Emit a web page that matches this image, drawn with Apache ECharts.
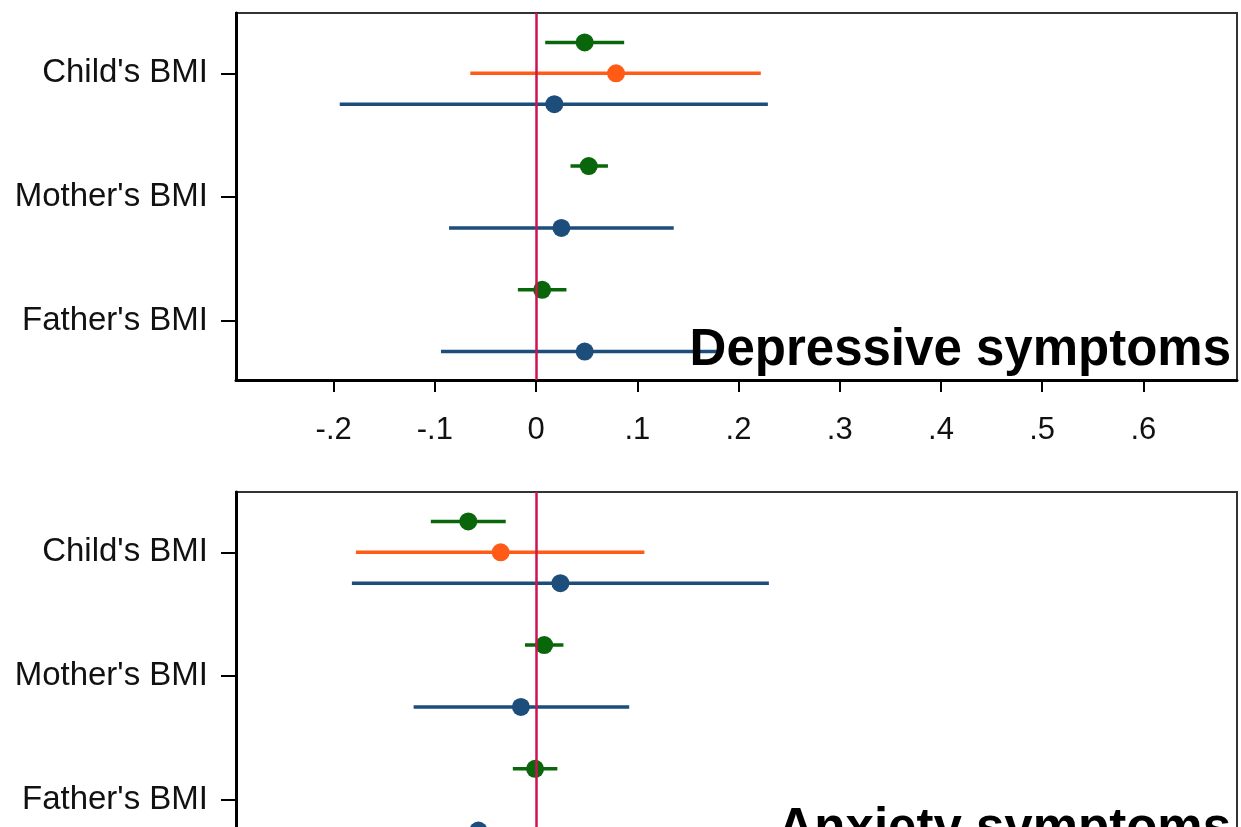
<!DOCTYPE html>
<html>
<head>
<meta charset="utf-8">
<script src="https://cdn.jsdelivr.net/npm/echarts@6/dist/echarts.min.js"></script>
<style>
  html, body { margin: 0; padding: 0; background: #fff; }
  #chart { width: 1241px; height: 827px; }
</style>
</head>
<body>
<div id="chart"></div>
<script>
// ---- data (order: Father's BMI, Mother's BMI, Child's BMI) ----
const categories = ["Father's BMI", "Mother's BMI", "Child's BMI"];
const xTicks = [-0.2, -0.1, 0, 0.1, 0.2, 0.3, 0.4, 0.5, 0.6];
const panelTitles = ["Depressive symptoms", "Anxiety symptoms"];

// Depressive symptoms
const depGreenEst = [0.006, 0.052, 0.048];
const depGreenLo  = [-0.018, 0.034, 0.009];
const depGreenHi  = [0.030, 0.071, 0.087];
const depOrangeEst = [null, null, 0.079];
const depOrangeLo  = [null, null, -0.065];
const depOrangeHi  = [null, null, 0.222];
const depBlueEst = [0.048, 0.025, 0.018];
const depBlueLo  = [-0.094, -0.086, -0.194];
const depBlueHi  = [0.180, 0.136, 0.229];

// Anxiety symptoms
const anxGreenEst = [-0.001, 0.008, -0.067];
const anxGreenLo  = [-0.023, -0.011, -0.104];
const anxGreenHi  = [0.021, 0.027, -0.030];
const anxOrangeEst = [null, null, -0.035];
const anxOrangeLo  = [null, null, -0.178];
const anxOrangeHi  = [null, null, 0.107];
const anxBlueEst = [-0.057, -0.015, 0.024];
const anxBlueLo  = [-0.170, -0.121, -0.182];
const anxBlueHi  = [0.060, 0.092, 0.230];

// ---- styling / layout ----
const GREEN = '#0a660a', ORANGE = '#ff5b17', BLUE = '#1d4d7b', RED = '#cc1450';
const ROW_OFFSET = { green: 0.25, orange: 0, blue: -0.25 };
const panels = [
  { top: 13, groups: [
    { key: 'green', color: GREEN, est: depGreenEst, lo: depGreenLo, hi: depGreenHi },
    { key: 'orange', color: ORANGE, est: depOrangeEst, lo: depOrangeLo, hi: depOrangeHi },
    { key: 'blue', color: BLUE, est: depBlueEst, lo: depBlueLo, hi: depBlueHi }
  ]},
  { top: 492, groups: [
    { key: 'green', color: GREEN, est: anxGreenEst, lo: anxGreenLo, hi: anxGreenHi },
    { key: 'orange', color: ORANGE, est: anxOrangeEst, lo: anxOrangeLo, hi: anxOrangeHi },
    { key: 'blue', color: BLUE, est: anxBlueEst, lo: anxBlueLo, hi: anxBlueHi }
  ]}
];
const PANEL_H = 367;
const FONT = '"Liberation Sans", Arial, sans-serif';

function fmtTick(v) {
  if (Math.abs(v) < 1e-9) return '0';
  const s = Math.abs(v).toFixed(1).replace(/^0/, '');
  return (v < 0 ? '-' : '') + s;
}

const grid = [], xAxis = [], yAxis = [], series = [], graphic = [];
panels.forEach((p, i) => {
  grid.push({ left: 236, right: 4, top: p.top, height: PANEL_H, show: true,
    outerBoundsMode: 'none', containLabel: false,
    borderColor: '#333', borderWidth: 2, backgroundColor: '#fff' });
  xAxis.push({
    type: 'value', gridIndex: i, min: -0.2965, max: 0.6925,
    splitLine: { show: false },
    axisLine: { show: true, onZero: false, lineStyle: { color: '#000', width: 3 } },
    axisTick: { show: true, length: 12, customValues: xTicks, lineStyle: { color: '#000', width: 2 } },
    axisLabel: { customValues: xTicks, formatter: fmtTick, fontSize: 31, fontFamily: FONT,
      color: '#111', margin: 35 }
  });
  yAxis.push({
    type: 'value', gridIndex: i, min: 0.5205, max: 3.4875,
    splitLine: { show: false },
    axisLine: { show: true, onZero: false, lineStyle: { color: '#000', width: 3 } },
    axisTick: { show: true, length: 15, customValues: [1, 2, 3], lineStyle: { color: '#000', width: 2 } },
    axisLabel: { customValues: [1, 2, 3], formatter: v => categories[Math.round(v) - 1] || '',
      fontSize: 33, fontFamily: FONT, color: '#111', margin: 28 }
  });
  // zero reference line
  series.push({
    type: 'scatter', xAxisIndex: i, yAxisIndex: i, data: [], silent: true,
    markLine: { silent: true, symbol: 'none', label: { show: false },
      lineStyle: { color: RED, width: 2.5, type: 'solid' }, data: [{ xAxis: 0 }] },
    z: 1
  });
  p.groups.forEach(g => {
    const barData = [], ptData = [];
    g.est.forEach((e, k) => {
      if (e === null) return;
      const y = k + 1 + ROW_OFFSET[g.key];
      barData.push([g.lo[k], g.hi[k], y]);
      ptData.push([e, y]);
    });
    series.push({
      type: 'custom', xAxisIndex: i, yAxisIndex: i, data: barData, silent: true, z: 3,
      encode: { x: [0, 1], y: 2 },
      renderItem: (params, api) => {
        const a = api.coord([api.value(0), api.value(2)]);
        const b = api.coord([api.value(1), api.value(2)]);
        return { type: 'line', shape: { x1: a[0], y1: a[1], x2: b[0], y2: b[1] },
          style: { stroke: g.color, lineWidth: 3.5, lineCap: 'butt' } };
      }
    });
    series.push({
      type: 'scatter', xAxisIndex: i, yAxisIndex: i, data: ptData, symbol: 'circle',
      symbolSize: 18, itemStyle: { color: g.color, opacity: 1 }, silent: true, z: 4
    });
  });
  graphic.push({
    type: 'text', right: 10, top: p.top + 312, z: 100,
    style: { text: panelTitles[i], font: 'bold 51px ' + FONT, fill: '#000' }
  });
});

const chart = echarts.init(document.getElementById('chart'), null, { renderer: 'canvas' });
chart.setOption({
  animation: false,
  backgroundColor: '#fff',
  grid, xAxis, yAxis, series, graphic
});
</script>
</body>
</html>
